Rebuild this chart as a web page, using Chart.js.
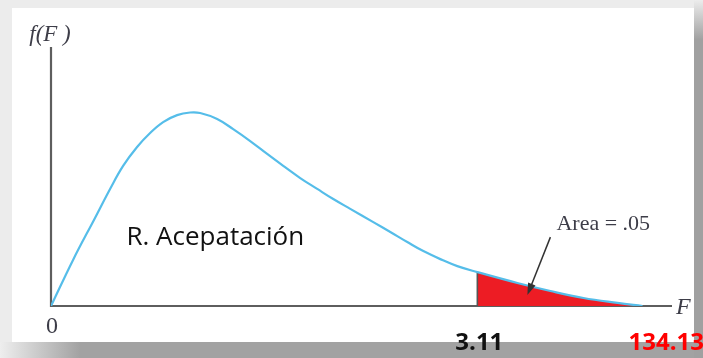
<!DOCTYPE html>
<html>
<head>
<meta charset="utf-8">
<script src="https://cdn.jsdelivr.net/npm/chart.js@4/dist/chart.umd.min.js"></script>
<style>
  html, body { margin: 0; padding: 0; background: #ffffff; }
  #wrap { width: 703px; height: 358px; }
</style>
</head>
<body>
<div id="wrap"><canvas id="c" width="703" height="358"></canvas></div>
<script>
// F-distribution density curve, sampled along the F axis
const fValues = [0, 0.161, 0.321, 0.431, 0.526, 0.628, 0.723, 0.818, 0.920, 1.015, 1.088,
  1.212, 1.329, 1.453, 1.577, 1.694, 1.818, 1.942, 2.059, 2.183, 2.351, 2.475, 2.599,
  2.716, 2.840, 2.964, 3.110, 3.402, 3.643, 3.884, 4.132, 4.315];
const density = [0, 0.178, 0.340, 0.452, 0.541, 0.614, 0.668, 0.710, 0.737, 0.747, 0.745,
  0.722, 0.683, 0.637, 0.587, 0.541, 0.494, 0.452, 0.413, 0.375, 0.324, 0.286, 0.247,
  0.212, 0.181, 0.154, 0.131, 0.089, 0.058, 0.031, 0.012, 0];

// critical value, computed statistic and rejection area
const criticalF = 3.11;
const criticalLabel = '3.11';
const statisticLabel = '134.13';
const areaLabel = 'Area = .05';
const acceptLabel = 'R. Acepatación';
const yAxisTitle = 'f(F )';
const xAxisTitle = 'F';
const originTick = '0';
const fMax = 4.53;

const curvePts = fValues.map((f, i) => ({ x: f, y: density[i] }));
const tailPts = curvePts.filter(p => p.x >= criticalF);
const critY = density[fValues.indexOf(criticalF)];

const framePlugin = {
  id: 'frame',
  beforeDraw(chart) {
    const ctx = chart.ctx, W = chart.width, H = chart.height;
    ctx.save();
    ctx.fillStyle = '#ececec';
    ctx.fillRect(0, 0, W, H);
    // drop shadow on the right and bottom
    const gb = ctx.createLinearGradient(0, 0, 80, 0);
    gb.addColorStop(0, '#eeeeee');
    gb.addColorStop(1, '#a2a2a2');
    ctx.fillStyle = gb;
    ctx.fillRect(0, 342, W, H - 342);
    const gr = ctx.createLinearGradient(0, 0, 0, 40);
    gr.addColorStop(0, '#ececec');
    gr.addColorStop(1, '#a0a0a0');
    ctx.fillStyle = gr;
    ctx.fillRect(694, 0, W - 694, H);
    ctx.fillStyle = '#ffffff';
    ctx.fillRect(12, 8, 682, 334);
    ctx.restore();
  },
  beforeDatasetsDraw(chart) {
    const ctx = chart.ctx, a = chart.chartArea;
    ctx.save();
    ctx.strokeStyle = '#5e5e5e';
    ctx.lineWidth = 2.2;
    ctx.beginPath();
    ctx.moveTo(a.left, a.top);
    ctx.lineTo(a.left, a.bottom);
    ctx.lineTo(a.right, a.bottom);
    ctx.stroke();
    ctx.restore();
  },
  afterDatasetsDraw(chart) {
    const ctx = chart.ctx, a = chart.chartArea;
    const xs = chart.scales.x, ys = chart.scales.y;
    ctx.save();
    // axis titles and origin
    ctx.fillStyle = '#3d3d48';
    ctx.font = 'italic 23px "Liberation Serif", "DejaVu Serif", serif';
    ctx.textAlign = 'center';
    ctx.textBaseline = 'alphabetic';
    ctx.fillText(yAxisTitle, a.left - 1, a.top - 6);
    ctx.textAlign = 'left';
    ctx.font = 'italic 24px "Liberation Serif", "DejaVu Serif", serif';
    ctx.fillText(xAxisTitle, a.right + 4, a.bottom + 8);
    ctx.textAlign = 'center';
    ctx.font = '24px "Liberation Serif", "DejaVu Serif", serif';
    ctx.fillText(originTick, a.left + 1, a.bottom + 27);

    // tail area note with arrow
    ctx.font = '22px "Liberation Serif", "DejaVu Serif", serif';
    ctx.textAlign = 'left';
    ctx.fillText(areaLabel, xs.getPixelForValue(3.687), ys.getPixelForValue(0.293));
    const x0 = xs.getPixelForValue(3.643), y0 = ys.getPixelForValue(0.266);
    const x1 = xs.getPixelForValue(3.475), y1 = ys.getPixelForValue(0.042);
    const ang = Math.atan2(y1 - y0, x1 - x0);
    ctx.strokeStyle = '#333333';
    ctx.fillStyle = '#333333';
    ctx.lineWidth = 1.5;
    ctx.beginPath();
    ctx.moveTo(x0, y0);
    ctx.lineTo(x1 - 8 * Math.cos(ang), y1 - 8 * Math.sin(ang));
    ctx.stroke();
    ctx.beginPath();
    ctx.moveTo(x1, y1);
    ctx.lineTo(x1 - 12 * Math.cos(ang) + 4 * Math.sin(ang), y1 - 12 * Math.sin(ang) - 4 * Math.cos(ang));
    ctx.lineTo(x1 - 12 * Math.cos(ang) - 4 * Math.sin(ang), y1 - 12 * Math.sin(ang) + 4 * Math.cos(ang));
    ctx.closePath();
    ctx.fill();

    // acceptance region label
    ctx.fillStyle = '#111111';
    ctx.font = '26px "Open Sans", sans-serif';
    ctx.fillText(acceptLabel, xs.getPixelForValue(0.55), ys.getPixelForValue(0.236));

    // critical value and statistic
    ctx.font = 'bold 24px "Open Sans", sans-serif';
    ctx.textAlign = 'center';
    ctx.fillStyle = '#111111';
    ctx.fillText(criticalLabel, xs.getPixelForValue(criticalF) + 2, a.bottom + 44);
    ctx.textAlign = 'right';
    ctx.fillStyle = '#ff0000';
    ctx.fillText(statisticLabel, chart.width + 1, a.bottom + 44);
    ctx.restore();
  }
};

new Chart(document.getElementById('c'), {
  type: 'line',
  data: {
    datasets: [
      {
        label: 'f(F)',
        data: curvePts,
        borderColor: '#55bde9',
        borderWidth: 2.2,
        pointRadius: 0,
        fill: false,
        tension: 0.4
      },
      {
        label: 'cut',
        data: [{ x: criticalF, y: 0 }, { x: criticalF, y: critY }],
        borderColor: '#555555',
        borderWidth: 1.6,
        pointRadius: 0,
        fill: false
      },
      {
        label: 'tail',
        data: tailPts,
        borderWidth: 0,
        borderColor: 'rgba(0,0,0,0)',
        backgroundColor: '#ed1c24',
        pointRadius: 0,
        fill: 'origin',
        tension: 0.4
      }
    ]
  },
  options: {
    responsive: false,
    devicePixelRatio: 1,
    animation: false,
    layout: { padding: { left: 51, top: 47, right: 31, bottom: 52 } },
    plugins: { legend: { display: false }, tooltip: { enabled: false } },
    scales: {
      x: { type: 'linear', min: 0, max: fMax, display: false },
      y: { type: 'linear', min: 0, max: 1, display: false }
    }
  },
  plugins: [framePlugin]
});
</script>
</body>
</html>
